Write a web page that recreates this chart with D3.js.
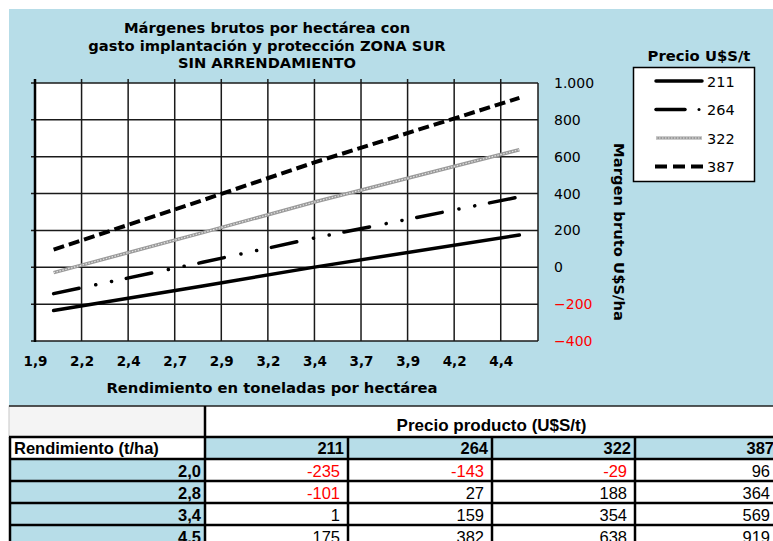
<!DOCTYPE html>
<html>
<head>
<meta charset="utf-8">
<script src="https://cdn.jsdelivr.net/npm/d3@7"></script>
<style>
  body { margin: 0; background: #fff; }
  svg { display: block; }
</style>
</head>
<body>
<div id="chart"></div>
<script>
// data
var yields = [2.0, 2.8, 3.4, 4.5];
var yieldLabels = ["2,0", "2,8", "3,4", "4,5"];
var prices = [211, 264, 322, 387];
var margin211 = [-235, -101, 1, 175];
var margin264 = [-143, 27, 159, 382];
var margin322 = [-29, 188, 354, 638];
var margin387 = [96, 364, 569, 919];
var xTickValues = [1.9, 2.15, 2.4, 2.65, 2.9, 3.15, 3.4, 3.65, 3.9, 4.15, 4.4];
var xTickLabels = ["1,9", "2,2", "2,4", "2,7", "2,9", "3,2", "3,4", "3,7", "3,9", "4,2", "4,4"];
var yTickValues = [-400, -200, 0, 200, 400, 600, 800, 1000];
var titleLines = ["Márgenes brutos por hectárea con", "gasto implantación y protección ZONA SUR", "SIN ARRENDAMIENTO"];

var series = [
  { price: 211, values: margin211 },
  { price: 264, values: margin264 },
  { price: 322, values: margin322 },
  { price: 387, values: margin387 }
];

var W = 773, H = 541;
var blue = "#b7dde8";
var plot = { left: 35, right: 538, top: 83, bottom: 341 };

var svg = d3.select("#chart").append("svg")
  .attr("width", W).attr("height", H);

// panel background
svg.append("rect").attr("x", 9).attr("y", 9).attr("width", W - 9).attr("height", 397)
  .attr("fill", blue);

// title
svg.append("g").selectAll("text").data(titleLines).enter().append("text")
  .attr("x", 267).attr("y", function(d, i) { return 33 + i * 17.5; })
  .attr("text-anchor", "middle")
  .style("font-family", "DejaVu Sans").style("font-weight", "bold").style("font-size", "14.7px")
  .text(function(d) { return d; });

var x = d3.scaleLinear().domain([1.9, 4.6]).range([plot.left, plot.right]);
var y = d3.scaleLinear().domain([-400, 1000]).range([plot.bottom, plot.top]);

svg.append("rect").attr("x", plot.left).attr("y", plot.top)
  .attr("width", plot.right - plot.left).attr("height", plot.bottom - plot.top)
  .attr("fill", "#fff");

// grid
var grid = svg.append("g").attr("stroke", "#1a1a1a").attr("stroke-width", 1.5);
grid.selectAll("line.v").data(xTickValues).enter().append("line")
  .attr("x1", function(d) { return x(d); }).attr("x2", function(d) { return x(d); })
  .attr("y1", plot.top - 4).attr("y2", plot.bottom);
grid.selectAll("line.h").data(yTickValues).enter().append("line")
  .attr("y1", function(d) { return y(d); }).attr("y2", function(d) { return y(d); })
  .attr("x1", plot.left - 4).attr("x2", plot.right);
grid.append("line").attr("x1", plot.right).attr("x2", plot.right)
  .attr("y1", plot.top).attr("y2", plot.bottom);
svg.append("line").attr("x1", plot.left).attr("x2", plot.left)
  .attr("y1", plot.top - 4).attr("y2", plot.bottom + 1)
  .attr("stroke", "#000").attr("stroke-width", 2.5);

// x labels
var fmtY = d3.formatLocale({ decimal: ",", thousands: ".", grouping: [3], currency: ["", ""] }).format(",d");

var xAxis = svg.append("g").attr("transform", "translate(0," + plot.bottom + ")")
  .call(d3.axisBottom(x).tickValues(xTickValues).tickSize(0).tickPadding(15)
    .tickFormat(function(d, i) { return xTickLabels[i]; }));
xAxis.select(".domain").remove();
xAxis.selectAll("text").style("font-family", "DejaVu Sans").style("font-weight", "bold")
  .style("font-size", "13.5px").attr("fill", "#000");

var yAxis = svg.append("g").attr("transform", "translate(" + plot.right + ",0)")
  .call(d3.axisRight(y).tickValues(yTickValues).tickSize(0).tickPadding(16).tickFormat(fmtY));
yAxis.select(".domain").remove();
yAxis.selectAll("text").style("font-family", "DejaVu Sans").style("font-size", "14px")
  .attr("fill", function(d) { return d < 0 ? "#ff0000" : "#000"; });

// axis titles
svg.append("text").attr("x", 272).attr("y", 393).attr("text-anchor", "middle")
  .style("font-family", "DejaVu Sans").style("font-weight", "bold").style("font-size", "14.8px")
  .text("Rendimiento en toneladas por hectárea");
svg.append("text").attr("transform", "translate(614,232) rotate(90)").attr("text-anchor", "middle")
  .style("font-family", "DejaVu Sans").style("font-weight", "bold").style("font-size", "14.8px")
  .text("Margen bruto U$S/ha");

// line styles
function styleLine(sel, price) {
  if (price === 211) {
    sel.attr("stroke", "#000").attr("stroke-width", 3.5).attr("stroke-linecap", "round");
  } else if (price === 264) {
    sel.attr("stroke", "#000").attr("stroke-width", 3.5).attr("stroke-linecap", "round")
      .attr("stroke-dasharray", "26,17,0.1,16,0.1,15");
  } else if (price === 387) {
    sel.attr("stroke", "#000").attr("stroke-width", 4).attr("stroke-dasharray", "11,5");
  }
}

var line = d3.line()
  .x(function(d, i) { return x(yields[i]); })
  .y(function(d) { return y(d); });

var lines = svg.append("g").attr("fill", "none");
series.forEach(function(s) {
  if (s.price === 322) {
    lines.append("path").attr("d", line(s.values)).attr("stroke", "#9a9a9a").attr("stroke-width", 3.5);
    lines.append("path").attr("d", line(s.values)).attr("stroke", "#e4e4e4").attr("stroke-width", 1.2)
      .attr("stroke-dasharray", "1.5,1.5");
  } else {
    lines.append("path").attr("d", line(s.values)).call(styleLine, s.price);
  }
});

// legend
svg.append("text").attr("x", 699).attr("y", 61).attr("text-anchor", "middle")
  .style("font-family", "DejaVu Sans").style("font-weight", "bold").style("font-size", "14.8px")
  .text("Precio U$S/t");
svg.append("rect").attr("x", 633.5).attr("y", 67.5).attr("width", 121).attr("height", 114)
  .attr("fill", "#fff").attr("stroke", "#000").attr("stroke-width", 1.5);
var leg = svg.append("g").selectAll("g").data(prices).enter().append("g")
  .attr("transform", function(d, i) { return "translate(0," + (81 + i * 28.5) + ")"; });
leg.each(function(p) {
  var g = d3.select(this);
  if (p === 322) {
    g.append("line").attr("x1", 656).attr("x2", 702).attr("stroke", "#9a9a9a").attr("stroke-width", 3);
    g.append("line").attr("x1", 656).attr("x2", 702).attr("stroke", "#e4e4e4").attr("stroke-width", 1)
      .attr("stroke-dasharray", "1.5,1.5");
  } else if (p === 264) {
    g.append("line").attr("x1", 656).attr("x2", 685).call(styleLine, 211);
    g.append("circle").attr("cx", 699).attr("cy", 0).attr("r", 1.5).attr("fill", "#000");
  } else if (p === 387) {
    g.append("line").attr("x1", 655).attr("x2", 703).call(styleLine, 387).attr("stroke-dasharray", "12,6");
  } else {
    g.append("line").attr("x1", 656).attr("x2", 702).call(styleLine, p);
  }
  g.append("text").attr("x", 707).attr("y", 5.5)
    .style("font-family", "DejaVu Sans").style("font-size", "14.5px").text(p);
});

// table
var colX = [9, 205, 348, 492, 635, 778];
var rowY = [406, 437, 459, 481, 503, 525, 547];
var tbl = svg.append("g");
var tableFont = "Liberation Sans, Arial, sans-serif";
var tFont = "16.5px";

// header row 1
tbl.append("rect").attr("x", colX[0]).attr("y", rowY[0]).attr("width", colX[1] - colX[0]).attr("height", rowY[1] - rowY[0])
  .attr("fill", "#f4f4f4").attr("stroke", "#c8c8c8").attr("stroke-width", 1);
tbl.append("rect").attr("x", colX[1]).attr("y", rowY[0]).attr("width", colX[5] - colX[1]).attr("height", rowY[1] - rowY[0])
  .attr("fill", "#fff");
tbl.append("line").attr("x1", colX[0]).attr("x2", W).attr("y1", rowY[0]).attr("y2", rowY[0])
  .attr("stroke", "#222").attr("stroke-width", 1.5);
tbl.append("text").attr("x", (colX[1] + colX[5]) / 2).attr("y", 431).attr("text-anchor", "middle")
  .style("font-family", tableFont).style("font-weight", "bold").style("font-size", "17px")
  .text("Precio producto (U$S/t)");

// header row 2
tbl.append("rect").attr("x", colX[0]).attr("y", rowY[1]).attr("width", colX[1] - colX[0]).attr("height", rowY[2] - rowY[1])
  .attr("fill", "#fff");
tbl.append("text").attr("x", 14).attr("y", 454)
  .style("font-family", tableFont).style("font-weight", "bold").style("font-size", tFont)
  .text("Rendimiento (t/ha)");
tbl.selectAll("rect.ph").data(prices).enter().append("rect")
  .attr("x", function(d, i) { return colX[i + 1]; }).attr("y", rowY[1])
  .attr("width", function(d, i) { return colX[i + 2] - colX[i + 1]; }).attr("height", rowY[2] - rowY[1])
  .attr("fill", blue);
tbl.selectAll("text.ph").data(prices).enter().append("text")
  .attr("x", function(d, i) { return colX[i + 2] - 4; }).attr("y", 454).attr("text-anchor", "end")
  .style("font-family", tableFont).style("font-weight", "bold").style("font-size", tFont)
  .text(function(d) { return d; });

// data rows
series.forEach(function(s, c) {
  s.values.forEach(function(v, r) {
    tbl.append("rect").attr("x", colX[c + 1]).attr("y", rowY[r + 2])
      .attr("width", colX[c + 2] - colX[c + 1]).attr("height", rowY[r + 3] - rowY[r + 2]).attr("fill", "#fff");
    tbl.append("text").attr("x", colX[c + 2] - 8).attr("y", rowY[r + 3] - 4.5).attr("text-anchor", "end")
      .style("font-family", tableFont).style("font-size", tFont)
      .attr("fill", v < 0 ? "#ff0000" : "#000").text(v);
  });
});
yieldLabels.forEach(function(l, r) {
  tbl.append("rect").attr("x", colX[0]).attr("y", rowY[r + 2])
    .attr("width", colX[1] - colX[0]).attr("height", rowY[r + 3] - rowY[r + 2]).attr("fill", blue);
  tbl.append("text").attr("x", colX[1] - 4).attr("y", rowY[r + 3] - 4.5).attr("text-anchor", "end")
    .style("font-family", tableFont).style("font-weight", "bold").style("font-size", tFont).text(l);
});

// table borders
var b = tbl.append("g").attr("stroke", "#000").attr("stroke-width", 2.5);
for (var r = 1; r < rowY.length; r++) {
  b.append("line").attr("x1", colX[0]).attr("x2", W).attr("y1", rowY[r]).attr("y2", rowY[r]);
}
b.append("line").attr("x1", colX[1]).attr("x2", colX[1]).attr("y1", rowY[0]).attr("y2", H);
for (var c = 2; c < colX.length - 1; c++) {
  b.append("line").attr("x1", colX[c]).attr("x2", colX[c]).attr("y1", rowY[1]).attr("y2", H);
}
b.append("line").attr("x1", colX[0] + 1).attr("x2", colX[0] + 1).attr("y1", rowY[1]).attr("y2", H);
</script>
</body>
</html>
